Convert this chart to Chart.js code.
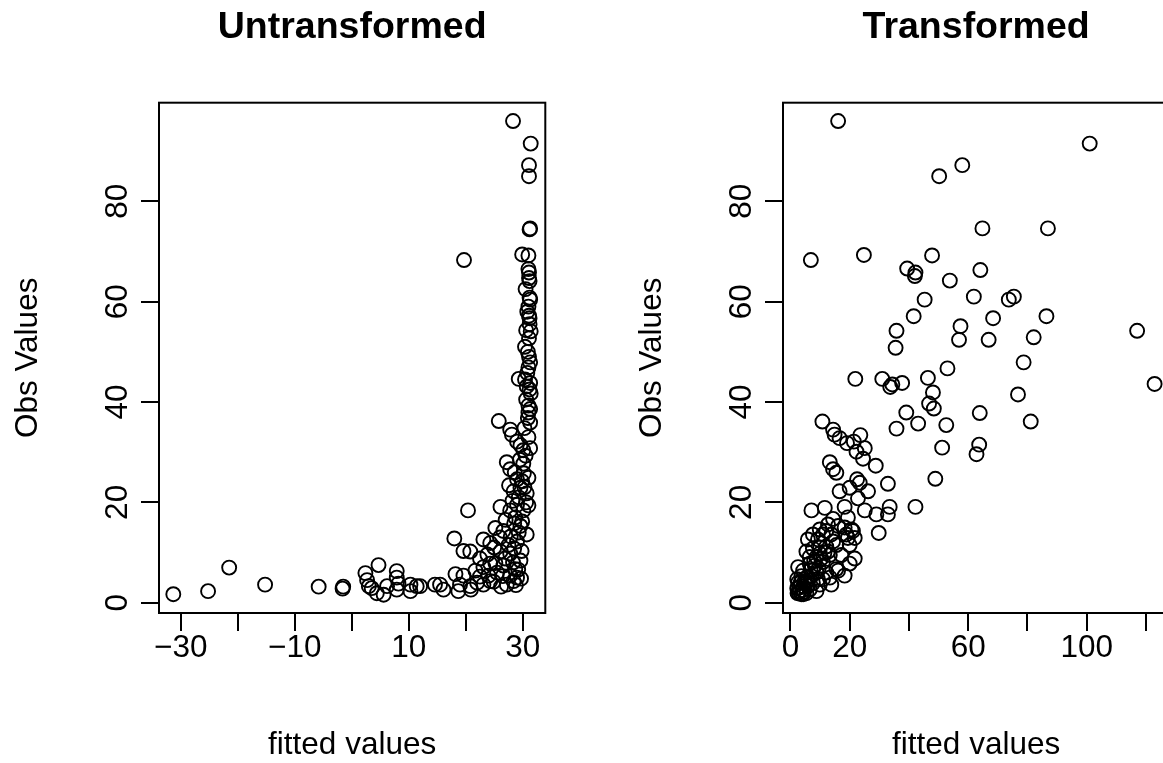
<!DOCTYPE html>
<html>
<head>
<meta charset="utf-8">
<title>Untransformed vs Transformed</title>
<script src="https://cdn.jsdelivr.net/npm/chart.js@4.4.0/dist/chart.umd.min.js"></script>
<style>
  html, body { margin: 0; padding: 0; background: #fff; overflow: hidden; width: 1163px; height: 763px; }
  canvas { position: absolute; top: 0; }
  #leftChart { left: 0; }
  #rightChart { left: 624px; }
</style>
</head>
<body>
<canvas id="leftChart" width="581" height="763"></canvas>
<canvas id="rightChart" width="581" height="763"></canvas>
<script>
// ---------- data ----------
// left panel: untransformed fit
const untransFitted = [
  28.3, 31.4, 31.1, 31.1, 31.3, 31.2, 19.7,
  29.9, 31.0, 31.0, 31.1, 31.1, 31.2, 31.2, 31.3, 31.1, 31.2, 30.6, 31.4, 31.1, 30.4, 31.3, 31.0,
  29.3, 30.4, 31.3, 30.7, 31.4, 31.0, 31.3, 31.0, 31.3, 25.8, 27.8, 28.1, 29.0, 29.6, 31.3, 30.1,
  27.2, 27.8, 30.1, 31.0, 29.9, 29.6, 28.4, 30.7, 26.1, 27.8, 31.0, 30.1, 28.7, 20.4, 29.6, 25.2,
  26.6, 30.7, 23.1, 18.0, 24.3, 27.5, 29.0, 19.6, 20.8, 26.1, 27.8, 22.5, 29.6, 24.3, 26.6, 23.1,
  21.7, 28.7, 18.2, 19.6, 24.0, 25.5, 27.8, 29.0, 19.0, 20.8, 23.1, 27.2, 28.4, 18.7, 20.9, 15.5,
  16.1, 24.3,
  -31.3, -25.2, -21.5, -15.2, -5.8, -1.6, -1.5, 2.4, 2.7, 3.0, 3.5, 4.7, 4.4, 5.6, 6.2, 7.9, 7.9,
  7.9, 8.2, 10.3, 10.3, 11.4, 12.0, 14.6,
  30.5, 31.0, 30.8, 31.2, 30.9, 31.1, 30.8, 31.2, 30.6, 30.9, 30.3, 31.0, 30.5, 29.5, 28.6, 30.2,
  29.0, 27.6, 30.3, 29.3, 28.2, 30.6, 29.0, 27.0, 28.5, 29.9, 26.0, 27.9, 29.3, 25.0, 28.5, 29.8,
  23.8, 26.9, 28.3, 25.2, 29.2, 22.5, 26.5, 24.9, 29.7, 26.2, 22.0, 28.8
];
const untransObs = [
  96.0, 91.5, 87.2, 85.0, 74.6, 74.4, 68.3,
  69.4, 69.2, 66.5, 65.8, 64.7, 64.1, 60.8, 60.4, 57.2, 56.7, 54.3, 54.1, 52.7, 51.0, 47.9, 46.9,
  44.6, 44.5, 43.8, 43.1, 41.7, 39.3, 38.6, 37.9, 35.9, 36.2, 34.5, 33.5, 32.1, 31.4, 30.8, 30.4,
  28.0, 26.6, 27.7, 24.9, 24.2, 22.9, 22.2, 21.8, 19.1, 18.4, 19.4, 18.4, 17.0, 18.4, 15.3, 14.9,
  14.3, 13.6, 12.6, 12.8, 11.9, 11.5, 12.2, 10.3, 10.2, 10.2, 9.8, 8.8, 8.4, 7.8, 7.4, 7.1,
  6.4, 6.7, 5.7, 5.4, 5.4, 6.0, 5.4, 5.0, 3.6, 3.3, 3.6, 3.6, 4.3, 2.3, 2.6, 3.6,
  2.6, 4.3,
  1.7, 2.3, 7.0, 3.6, 3.2, 2.8, 3.2, 5.9, 4.5, 3.3, 2.9, 7.5, 1.9, 1.6, 3.3, 6.3, 5.0,
  2.6, 3.8, 2.3, 3.6, 3.3, 3.3, 3.6,
  62.5, 59.0, 58.0, 55.5, 50.0, 49.0, 45.8, 42.5, 40.5, 36.8, 34.8, 33.0, 29.3, 28.5, 26.0, 25.8,
  24.6, 23.4, 23.0, 21.0, 20.3, 20.0, 19.5, 16.5, 15.8, 16.2, 13.0, 13.2, 14.0, 11.0, 10.8, 10.3,
  9.6, 8.8, 8.0, 7.9, 6.6, 5.2, 5.3, 4.2, 4.8, 3.2, 4.0, 3.5
];

// right panel: transformed fit
const transFitted = [
  16.1, 101.0, 58.0, 50.2, 64.8, 86.9, 6.9, 24.8, 47.8, 39.4, 42.2, 42.0, 64.1, 53.8, 61.9, 73.7,
  75.4, 45.3, 41.6, 68.4, 86.4, 57.4, 56.9, 66.9, 35.8, 35.5, 82.1, 117.0, 78.7, 53.0, 21.9, 31.0,
  34.4, 33.7, 37.7, 46.4, 48.1, 122.9, 76.8, 46.8, 48.4, 39.1, 43.1, 52.6, 63.9, 81.1, 35.8, 51.2,
  63.7, 62.8, 48.9, 42.2, 29.8,
  10.8, 14.4, 14.9, 16.6, 19.1, 21.4, 23.6, 22.3, 25.1, 24.5, 28.8, 13.3, 14.4, 15.5, 32.9, 22.5,
  23.4, 20.0, 26.2, 16.6, 22.8, 7.1, 11.6, 18.3, 25.1, 29.0, 33.5, 32.9, 14.4, 19.4, 9.9, 16.1,
  20.6, 5.9, 9.3, 13.8, 18.9, 21.7, 7.6, 12.1, 15.5, 20.0, 5.4, 9.9, 13.3, 21.7, 20.0, 2.6,
  6.5, 11.0, 15.5, 18.3, 4.3, 8.8, 13.3, 13.8, 2.3, 5.4, 2.3, 3.1, 4.3, 6.5, 7.6, 3.7,
  5.4, 8.8, 9.9, 11.0, 12.1, 16.1, 8.2, 10.4, 12.7, 17.2, 14.4, 11.0, 19.4, 21.1, 18.3, 12.1,
  7.6, 12.7, 8.8, 6.5, 3.7, 2.6, 4.8, 7.1, 9.3, 5.9, 2.4, 4.3,
  3.0, 4.0, 5.0, 6.0, 3.5, 2.8, 4.6, 6.8, 8.0, 10.0, 11.5, 9.5
];
const transObs = [
  96.0, 91.5, 87.2, 85.0, 74.6, 74.6, 68.3, 69.3, 69.2, 66.6, 65.8, 65.1, 66.3, 64.2, 61.0, 60.4,
  61.0, 60.4, 57.1, 56.7, 57.1, 55.1, 52.4, 52.4, 54.2, 50.8, 52.9, 54.2, 47.9, 46.7, 44.6, 44.6,
  43.5, 43.0, 43.8, 44.8, 41.9, 43.6, 41.5, 39.7, 38.7, 37.9, 35.7, 35.4, 37.8, 36.1, 34.7, 30.9,
  31.5, 29.6, 24.7, 19.1, 13.9,
  36.1, 34.5, 33.5, 32.8, 31.8, 32.1, 33.4, 30.1, 30.8, 28.7, 27.3, 28.0, 26.6, 25.9, 23.7, 24.6,
  23.9, 22.9, 22.2, 22.2, 20.8, 18.4, 18.9, 19.1, 18.4, 17.6, 19.1, 17.6, 16.7, 17.0, 14.6, 15.3,
  14.6, 12.6, 12.6, 13.6, 13.6, 12.9, 10.8, 11.2, 11.5, 11.5, 10.2, 9.8, 9.5, 8.8, 7.8, 7.1,
  7.8, 8.1, 6.7, 5.4, 6.4, 6.0, 5.0, 3.6, 4.7, 5.0, 2.9, 2.3, 3.3, 2.6, 3.9, 1.7,
  1.9, 2.3, 3.6, 4.7, 6.0, 6.4, 7.4, 8.8, 10.2, 9.5, 12.2, 13.6, 12.9, 14.3, 15.0, 14.3,
  13.6, 15.6, 9.1, 9.1, 5.3, 4.0, 4.3, 5.3, 4.7, 3.3, 1.9, 1.7,
  3.0, 2.5, 3.8, 4.5, 4.0, 2.0, 2.2, 6.5, 8.3, 11.0, 10.0, 6.8
];

// axes
const untransXTicks = [-30, -20, -10, 0, 10, 20, 30];
const untransXLabelled = [-30, -10, 10, 30];
const transXTicks = [0, 20, 40, 60, 80, 100, 120];
const transXLabelled = [0, 20, 60, 100];
const obsTicks = [0, 20, 40, 60, 80];
const untransXRange = [-33.81, 33.96];
const transXRange = [-2.5, 127.86];
const obsRange = [-2.05, 99.65];

// ---------- drawing ----------
const FONT = '"Liberation Sans", Arial, Helvetica, sans-serif';

function fmt(v) {
  return v < 0 ? "\u2212" + Math.abs(v) : String(v);
}

// R-style box, title, axis titles and rotated y tick labels
const rText = {
  id: "rText",
  afterDraw(chart, args, opts) {
    const { ctx, chartArea: a } = chart;
    const cx = (a.left + a.right) / 2;
    const cy = (a.top + a.bottom) / 2;
    ctx.save();
    ctx.strokeStyle = "#000";
    ctx.lineWidth = 2;
    ctx.strokeRect(a.left, a.top, a.right - a.left, a.bottom - a.top);

    ctx.fillStyle = "#000";
    ctx.textAlign = "center";
    ctx.textBaseline = "middle";
    ctx.font = "bold 37.5px " + FONT;
    ctx.fillText(opts.title, cx, 28);

    ctx.font = "31.5px " + FONT;
    ctx.fillText(opts.xTitle, cx, 745);

    ctx.save();
    ctx.translate(28, cy);
    ctx.rotate(-Math.PI / 2);
    ctx.fillText(opts.yTitle, 0, 0);
    ctx.restore();

    const ys = chart.scales.y;
    ys.ticks.forEach((t) => {
      ctx.save();
      ctx.translate(118, ys.getPixelForValue(t.value));
      ctx.rotate(-Math.PI / 2);
      ctx.fillText(fmt(t.value), 0, 0);
      ctx.restore();
    });
    ctx.restore();
  },
};

function makePanel(canvasId, title, xs, ys, xRange, xTicks, xLabelled) {
  const points = xs.map((x, i) => ({ x: x, y: ys[i] }));
  return new Chart(document.getElementById(canvasId), {
    type: "scatter",
    data: {
      datasets: [
        {
          data: points,
          pointRadius: 7,
          pointHoverRadius: 7,
          pointBorderWidth: 1.9,
          pointBorderColor: "#000",
          pointBackgroundColor: "rgba(0,0,0,0)",
        },
      ],
    },
    options: {
      responsive: false,
      devicePixelRatio: 1,
      animation: false,
      events: [],
      layout: { padding: { top: 102.7, right: 35.7, left: 0, bottom: 0 } },
      plugins: {
        legend: { display: false },
        tooltip: { enabled: false },
        rText: { title: title, xTitle: "fitted values", yTitle: "Obs Values" },
      },
      scales: {
        x: {
          type: "linear",
          min: xRange[0],
          max: xRange[1],
          afterBuildTicks: (s) => { s.ticks = xTicks.map((v) => ({ value: v })); },
          afterFit: (s) => { s.height = 150; },
          border: { display: false },
          grid: { drawOnChartArea: false, drawTicks: true, tickLength: 18, lineWidth: 2, color: "#000" },
          ticks: {
            autoSkip: false,
            minRotation: 0,
            maxRotation: 0,
            padding: 2,
            color: "#000",
            font: { family: FONT, size: 31.5, lineHeight: 1 },
            callback: (v) => (xLabelled.includes(v) ? fmt(v) : ""),
          },
        },
        y: {
          type: "linear",
          min: obsRange[0],
          max: obsRange[1],
          afterBuildTicks: (s) => { s.ticks = obsTicks.map((v) => ({ value: v })); },
          afterFit: (s) => { s.width = 159; },
          border: { display: false },
          grid: { drawOnChartArea: false, drawTicks: true, tickLength: 18, lineWidth: 2, color: "#000" },
          ticks: { display: false },
        },
      },
    },
    plugins: [rText],
  });
}

makePanel("leftChart", "Untransformed", untransFitted, untransObs, untransXRange, untransXTicks, untransXLabelled);
makePanel("rightChart", "Transformed", transFitted, transObs, transXRange, transXTicks, transXLabelled);
</script>
</body>
</html>
